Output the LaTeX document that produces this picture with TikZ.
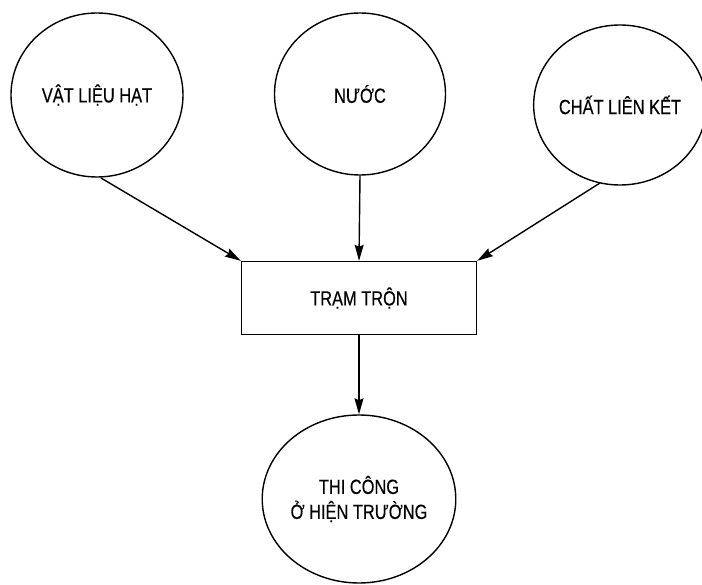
\documentclass[tikz,border=0pt]{standalone}
\usepackage{fontspec}
\setmainfont[FakeStretch=0.8,FakeBold=0.4]{Liberation Sans}
\usetikzlibrary{shapes.geometric,arrows.meta}
\begin{document}
\begin{tikzpicture}[x=1pt,y=-1pt,
  every node/.style={font=\fontsize{20.5}{25}\selectfont, align=center, inner sep=0pt},
  bubble/.style={draw, ellipse, line width=1.4pt},
  mixbox/.style={draw, rectangle, line width=1.4pt, minimum width=235pt, minimum height=73pt},
  flow/.style={line width=1.4pt, -{Stealth[length=16pt,width=9pt,inset=2pt]}}]
  \useasboundingbox (0,0) rectangle (702,585);
  % input materials
  \node[bubble, minimum width=172pt, minimum height=164pt] (hat) at (97,95) {VẬT LIỆU HẠT};
  \node[bubble, minimum width=171pt, minimum height=162pt] (nuoc) at (360,94) {NƯỚC};
  \node[bubble, minimum width=162pt, minimum height=160pt] (lk) at (620,105) {CHẤT LIÊN KẾT};
  % mixing plant
  \node[mixbox] (tram) at (359,298) {TRẠM TRỘN};
  % site work
  \node[bubble, minimum width=172pt, minimum height=168pt] (thicong) at (359,499) {THI CÔNG\\Ở HIỆN TRƯỜNG};
  % feeds into the mixing plant
  \coordinate (hatout) at (101,178);
  \coordinate (lkout) at (600,183);
  \draw[flow] (hatout) -- (tram.north west);
  \draw[flow] (nuoc.south) -- (tram.north);
  \draw[flow] (lkout) -- (tram.north east);
  % mixed material to site
  \draw[flow] (tram.south) -- (thicong.north);
\end{tikzpicture}
\end{document}
